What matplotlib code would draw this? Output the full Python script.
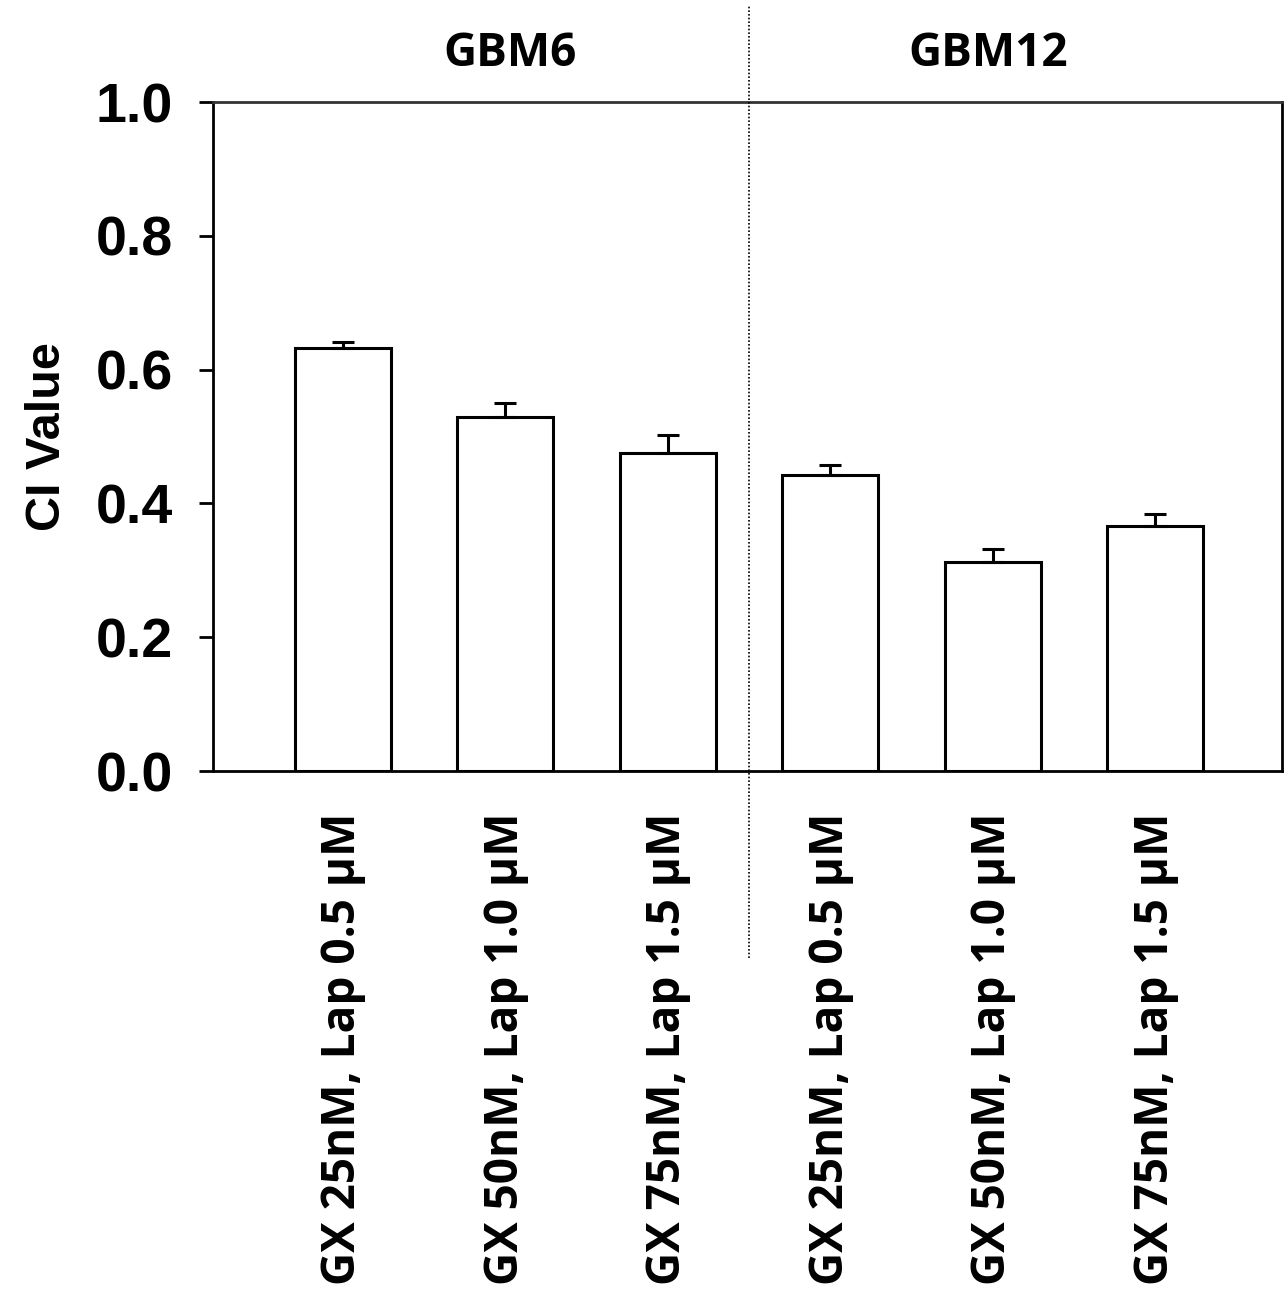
import matplotlib
matplotlib.use("Agg")
import matplotlib.pyplot as plt
import numpy as np

# CI values
labels = ["GX 25nM, Lap 0.5 µM", "GX 50nM, Lap 1.0 µM", "GX 75nM, Lap 1.5 µM",
          "GX 25nM, Lap 0.5 µM", "GX 50nM, Lap 1.0 µM", "GX 75nM, Lap 1.5 µM"]
ci_values = [0.632, 0.529, 0.475, 0.442, 0.312, 0.366]
ci_errors = [0.009, 0.021, 0.027, 0.015, 0.020, 0.018]
groups = ["GBM6", "GBM12"]
yticks = [0.0, 0.2, 0.4, 0.6, 0.8, 1.0]

fig = plt.figure(figsize=(12.87, 12.98), dpi=100)
ax = fig.add_axes([0.1655, 0.406, 0.8306, 0.5154])

x = np.arange(len(ci_values))
ax.bar(x, ci_values, width=0.59, color="white", edgecolor="black", linewidth=2.2, zorder=2)
ax.errorbar(x, ci_values, yerr=[np.zeros(len(ci_errors)), ci_errors], fmt="none",
            ecolor="black", elinewidth=2.2, capsize=8, capthick=2.2, zorder=3)

ax.set_xlim(-0.8, 5.78)
ax.set_ylim(0, 1.0)
ax.set_yticks(yticks)
ax.set_yticklabels([f"{v:.1f}" for v in yticks], fontsize=40, fontweight="bold",
                   family="Liberation Sans")
ax.tick_params(axis="y", length=10, width=2, pad=19)
ax.set_xticks(x)
ax.set_xticklabels(labels, rotation=90, fontsize=33, fontweight="bold", family="Open Sans")
ax.tick_params(axis="x", length=0, pad=30)
for s in ax.spines.values():
    s.set_linewidth(2)
ax.spines["top"].set_color("#333333")
ax.set_ylabel("CI Value", fontsize=35, fontweight="bold", family="Liberation Sans", labelpad=18)

# separator between cell lines
ax.plot([2.5, 2.5], [-0.28, 1.145], ls=(0, (1, 1.2)), color="black", lw=1.2,
        clip_on=False, zorder=4)
ax.text(1.03, 1.073, groups[0], ha="center", va="center", fontsize=33, fontweight="bold",
        family="Open Sans")
ax.text(3.97, 1.073, groups[1], ha="center", va="center", fontsize=33, fontweight="bold",
        family="Open Sans")

fig.savefig("out.png", dpi=100)
